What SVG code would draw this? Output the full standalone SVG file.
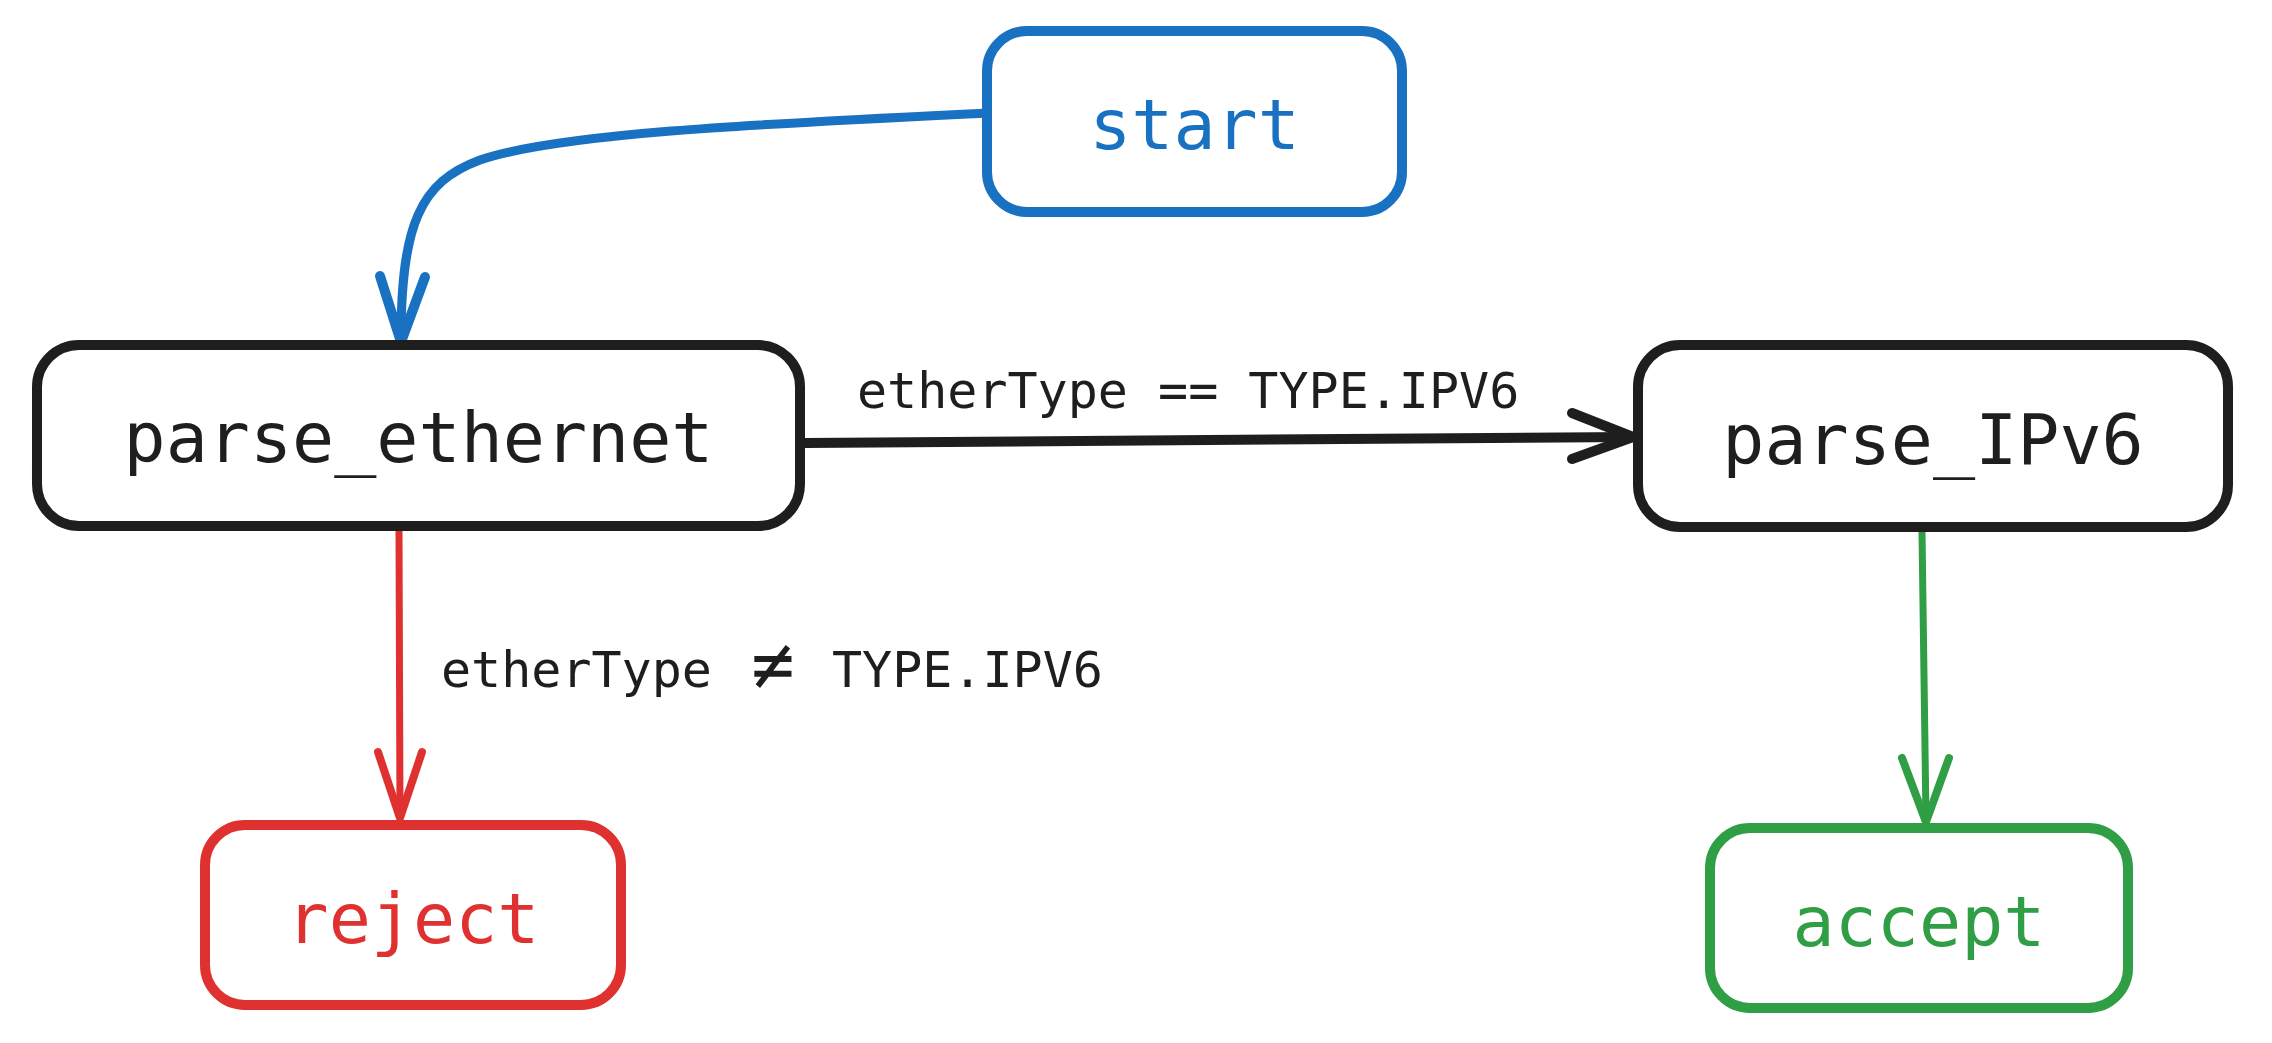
<svg xmlns="http://www.w3.org/2000/svg" width="2272" height="1043" viewBox="0 0 2272 1043">
<style>
.box{fill:#ffffff;stroke-width:10;stroke-linejoin:round}
.lbl{font-family:"DejaVu Sans Mono","Liberation Mono",monospace;font-size:70px;text-anchor:middle}
.edge{fill:none;stroke-linecap:round;stroke-linejoin:round}
.elbl{font-family:"DejaVu Sans Mono","Liberation Mono",monospace;font-size:50px;fill:#1e1e1e}
</style>
<rect width="2272" height="1043" fill="#ffffff"/>
<g id="connectors">
<g id="e-start-pe" stroke="#1971c2">
<path class="edge" stroke-width="9" d="M 987 113 C 760 124, 560 133, 480 160 C 420 182, 401 225, 401 340"/>
<path class="edge" stroke-width="10" d="M 380 276 L 401 342 L 425 277"/>
</g>
<g id="e-pe-ipv6" stroke="#1e1e1e">
<path class="edge" stroke-width="10" d="M 805 443 L 1631 437"/>
<path class="edge" stroke-width="10" d="M 1572 413 L 1633 437 L 1572 459"/>
<text class="elbl" x="857" y="408" stroke="none">etherType == TYPE.IPV6</text>
</g>
<g id="e-pe-reject" stroke="#e03131">
<path class="edge" stroke-width="7" d="M 399 530 L 400 816"/>
<path class="edge" stroke-width="8" d="M 378 752 L 400 818 L 422 752"/>
</g>
<text class="elbl" x="441" y="687">etherType</text>
<text class="elbl" x="773" y="689" text-anchor="middle" style="font-size:72px">≠</text>
<text class="elbl" x="832" y="687">TYPE.IPV6</text>
<g id="e-ipv6-accept" stroke="#2f9e44">
<path class="edge" stroke-width="7" d="M 1922 532 L 1926 820"/>
<path class="edge" stroke-width="8" d="M 1902 758 L 1926 822 L 1949 758"/>
</g>
</g>
<g id="start">
<rect class="box" x="987" y="31" width="415" height="181" rx="40" stroke="#1971c2"/>
<text class="lbl" x="1194.5" y="149" fill="#1971c2">start</text>
</g>
<g id="parse_ethernet">
<rect class="box" x="37" y="345" width="763" height="181" rx="42" stroke="#1e1e1e"/>
<text class="lbl" x="418.5" y="462" fill="#1e1e1e">parse_ethernet</text>
</g>
<g id="parse_IPv6">
<rect class="box" x="1638" y="345" width="590" height="182" rx="42" stroke="#1e1e1e"/>
<text class="lbl" x="1933" y="464" fill="#1e1e1e">parse_IPv6</text>
</g>
<g id="reject">
<rect class="box" x="205" y="825" width="416" height="180" rx="40" stroke="#e03131"/>
<text class="lbl" x="413" y="943" fill="#e03131">reject</text>
</g>
<g id="accept">
<rect class="box" x="1710" y="828" width="418" height="180" rx="40" stroke="#2f9e44"/>
<text class="lbl" x="1919" y="946" fill="#2f9e44">accept</text>
</g>
</svg>
